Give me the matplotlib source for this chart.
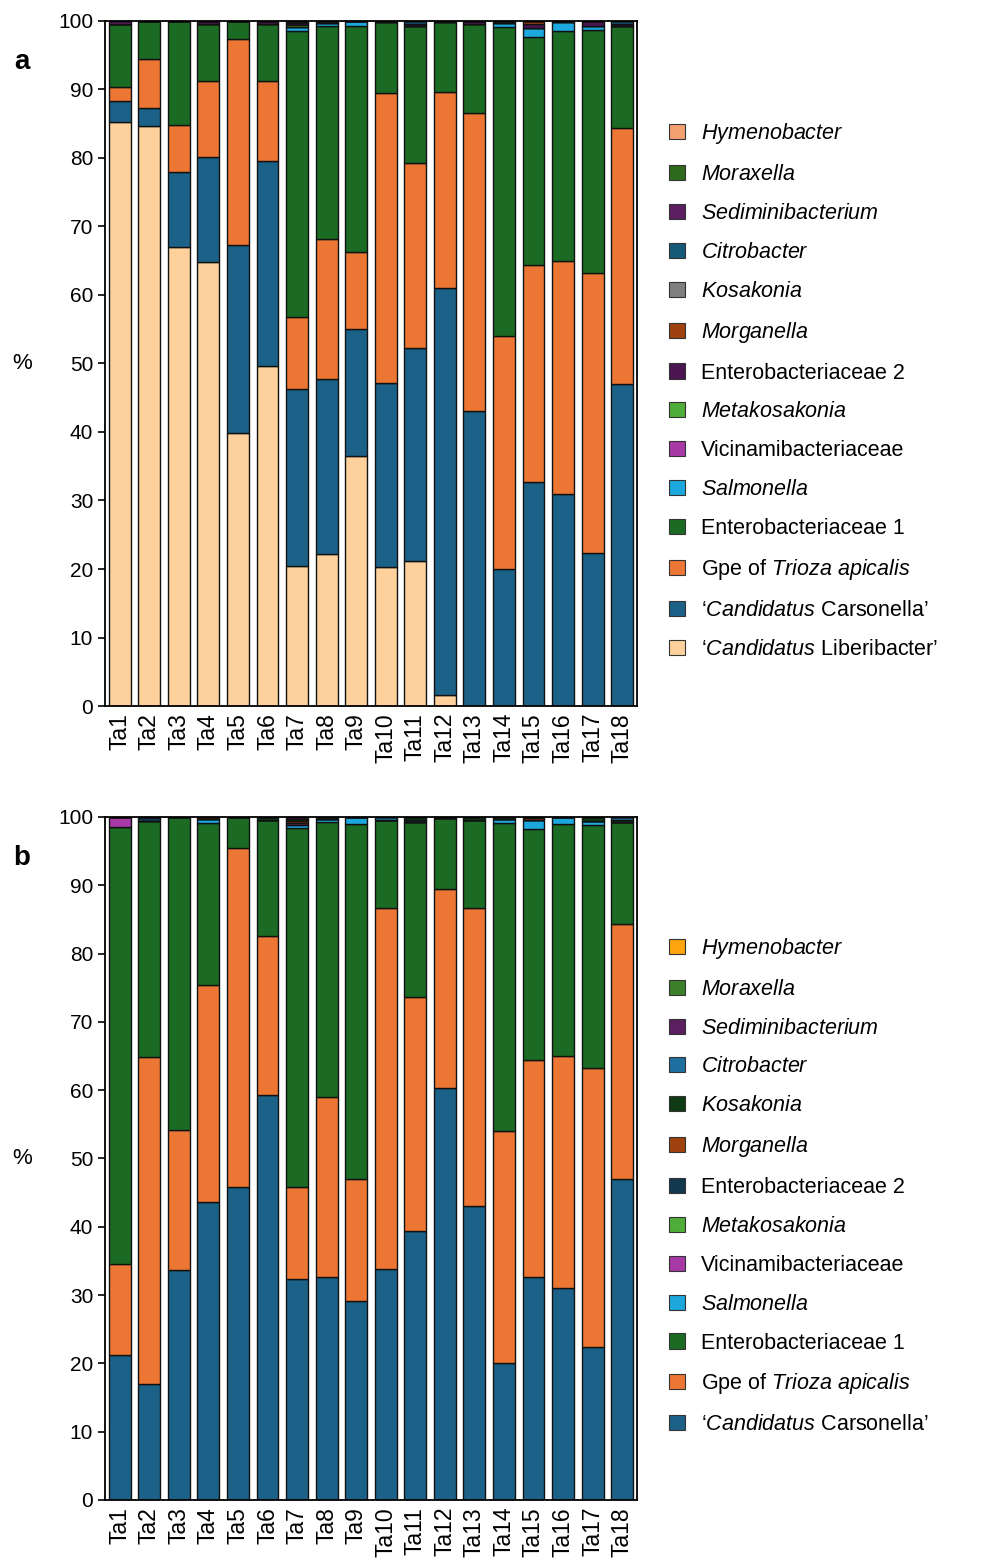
import matplotlib
matplotlib.use('Agg')
import matplotlib.pyplot as plt
from matplotlib.patches import Patch
import numpy as np

plt.rcParams['font.family'] = ['Liberation Sans', 'DejaVu Sans']
plt.rcParams['mathtext.fontset'] = 'custom'
plt.rcParams['mathtext.rm'] = 'Liberation Sans'
plt.rcParams['mathtext.it'] = 'Liberation Sans:italic'

samples = ['Ta1', 'Ta2', 'Ta3', 'Ta4', 'Ta5', 'Ta6', 'Ta7', 'Ta8', 'Ta9',
           'Ta10', 'Ta11', 'Ta12', 'Ta13', 'Ta14', 'Ta15', 'Ta16', 'Ta17', 'Ta18']

# taxa, bottom of the stack first
taxa = ['Liberibacter', 'Carsonella', 'Gpe', 'Entero1', 'Salmonella', 'Vicinami',
        'Metakosakonia', 'Entero2', 'Morganella', 'Kosakonia', 'Citrobacter',
        'Sediminibacterium', 'Moraxella', 'Hymenobacter']

labels = {
    'Liberibacter': '‘$\\mathit{Candidatus}$ Liberibacter’',
    'Carsonella': '‘$\\mathit{Candidatus}$ Carsonella’',
    'Gpe': 'Gpe of $\\mathit{Trioza\\ apicalis}$',
    'Entero1': 'Enterobacteriaceae 1',
    'Salmonella': '$\\mathit{Salmonella}$',
    'Vicinami': 'Vicinamibacteriaceae',
    'Metakosakonia': '$\\mathit{Metakosakonia}$',
    'Entero2': 'Enterobacteriaceae 2',
    'Morganella': '$\\mathit{Morganella}$',
    'Kosakonia': '$\\mathit{Kosakonia}$',
    'Citrobacter': '$\\mathit{Citrobacter}$',
    'Sediminibacterium': '$\\mathit{Sediminibacterium}$',
    'Moraxella': '$\\mathit{Moraxella}$',
    'Hymenobacter': '$\\mathit{Hymenobacter}$',
}

# panel a (% reads)
a_liberibacter = [85.2, 84.7, 67.0, 64.8, 39.8, 49.7, 20.5, 22.2, 36.5, 20.3, 21.2, 1.6, 0, 0, 0, 0, 0, 0]
a_carsonella = [3.1, 2.6, 11.0, 15.4, 27.5, 29.8, 25.8, 25.6, 18.5, 26.9, 31.1, 59.4, 43.0, 20.0, 32.7, 31.0, 22.4, 47.0]
a_gpe = [2.1, 7.2, 6.8, 11.1, 30.1, 11.8, 10.5, 20.4, 11.3, 42.3, 27.0, 28.6, 43.6, 34.0, 31.7, 34.0, 40.8, 37.3]
a_entero1 = [9.2, 5.5, 15.2, 8.3, 2.6, 8.3, 41.8, 31.0, 32.9, 10.3, 20.0, 10.2, 13.0, 45.1, 33.2, 33.6, 35.5, 15.0]
a_salmonella = [0, 0, 0, 0, 0, 0, 0.5, 0.5, 0.8, 0, 0, 0, 0, 0.6, 1.4, 1.2, 0.6, 0]
a_vicinami = [0] * 18
a_metakosakonia = [0, 0, 0, 0, 0, 0, 0.3, 0, 0, 0, 0, 0, 0, 0, 0, 0, 0, 0]
a_entero2 = [0, 0, 0, 0.4, 0, 0.4, 0.3, 0.3, 0, 0.2, 0.3, 0.2, 0.4, 0.3, 0.5, 0.2, 0.7, 0.3]
a_morganella = [0, 0, 0, 0, 0, 0, 0, 0, 0, 0, 0, 0, 0, 0, 0.5, 0, 0, 0]
a_kosakonia = [0] * 18
a_citrobacter = [0, 0, 0, 0, 0, 0, 0.1, 0, 0, 0, 0.4, 0, 0, 0, 0, 0, 0, 0.4]
a_sediminibacterium = [0.4, 0, 0, 0, 0, 0, 0, 0, 0, 0, 0, 0, 0, 0, 0, 0, 0, 0]
a_moraxella = [0, 0, 0, 0, 0, 0, 0.2, 0, 0, 0, 0, 0, 0, 0, 0, 0, 0, 0]
a_hymenobacter = [0] * 18

# panel b (% reads, Liberibacter removed)
b_carsonella = [21.2, 17.0, 33.6, 43.6, 45.8, 59.3, 32.4, 32.6, 29.1, 33.8, 39.4, 60.3, 43.0, 20.0, 32.7, 31.0, 22.4, 47.0]
b_gpe = [13.4, 47.8, 20.6, 31.8, 49.6, 23.2, 13.4, 26.4, 17.9, 52.9, 34.2, 29.2, 43.6, 34.0, 31.7, 34.0, 40.8, 37.3]
b_entero1 = [63.9, 34.6, 45.8, 23.7, 4.6, 17.1, 52.6, 40.2, 52.0, 12.9, 25.6, 10.3, 13.0, 45.1, 33.8, 33.9, 35.6, 15.0]
b_salmonella = [0, 0, 0, 0.6, 0, 0, 0.4, 0.5, 1.0, 0, 0, 0, 0, 0.6, 1.4, 1.1, 0.6, 0]
b_vicinami = [1.5, 0, 0, 0, 0, 0, 0.3, 0, 0, 0, 0, 0, 0, 0, 0, 0, 0, 0]
b_metakosakonia = [0] * 18
b_entero2 = [0, 0.6, 0, 0, 0, 0, 0, 0, 0, 0, 0.4, 0, 0, 0, 0, 0, 0, 0]
b_morganella = [0, 0, 0, 0.3, 0, 0, 0.3, 0, 0, 0, 0, 0, 0, 0, 0.2, 0, 0, 0]
b_kosakonia = [0, 0, 0, 0, 0, 0.4, 0.3, 0.3, 0, 0, 0.4, 0.2, 0.4, 0.3, 0.3, 0, 0.6, 0.3]
b_citrobacter = [0, 0, 0, 0, 0, 0, 0, 0, 0, 0.4, 0, 0, 0, 0, 0, 0, 0, 0.4]
b_sediminibacterium = [0, 0, 0, 0, 0, 0, 0.3, 0, 0, 0, 0, 0, 0, 0, 0, 0, 0, 0]
b_moraxella = [0] * 18
b_hymenobacter = [0] * 18

colors_a = {
    'Liberibacter': '#FDD09C', 'Carsonella': '#1B6188', 'Gpe': '#EC7634',
    'Entero1': '#1C6B24', 'Salmonella': '#1CA7DD', 'Vicinami': '#A83AA8',
    'Metakosakonia': '#4FAE3A', 'Entero2': '#4A1550', 'Morganella': '#A0420F',
    'Kosakonia': '#808080', 'Citrobacter': '#155A78', 'Sediminibacterium': '#5B1E5F',
    'Moraxella': '#2E6A1E', 'Hymenobacter': '#F5A070',
}
colors_b = dict(colors_a)
colors_b.update({
    'Entero2': '#12384F', 'Kosakonia': '#0E3A14', 'Citrobacter': '#1F70A0',
    'Moraxella': '#3C7F2A', 'Hymenobacter': '#FFA510',
})


def draw_panel(ax, series, colors):
    x = np.arange(len(samples))
    bottom = np.zeros(len(samples))
    for name in taxa:
        if name not in series:
            continue
        vals = np.array(series[name], dtype=float)
        ax.bar(x, vals, 0.74, bottom=bottom, color=colors[name],
               edgecolor='#111111', linewidth=1.0)
        bottom += vals
    ax.set_xlim(-0.5, len(samples) - 0.5)
    ax.set_ylim(0, 100)
    ax.set_yticks(range(0, 101, 10))
    ax.set_xticks(x)
    ax.set_xticklabels(samples, rotation=90, fontsize=16.5)
    ax.tick_params(axis='y', labelsize=15, direction='out', length=5, width=1.2)
    ax.tick_params(axis='x', length=0, pad=5)
    for sp in ax.spines.values():
        sp.set_linewidth(1.3)
    ax.set_ylabel('%', rotation=0, fontsize=16, labelpad=26, va='center')


def add_legend(fig, series, colors, y_center):
    handles = [Patch(facecolor=colors[n], edgecolor='#333333', linewidth=0.8, label=labels[n])
               for n in reversed(taxa) if n in series]
    fig.legend(handles=handles, loc='center left', bbox_to_anchor=(0.66, y_center),
               frameon=False, fontsize=15.5, handlelength=0.7, handleheight=0.7,
               handletextpad=0.75, labelspacing=0.83)


def main():
    fig = plt.figure(figsize=(9.85, 15.62), dpi=100)
    ax_a = fig.add_axes([0.1066, 0.548, 0.540, 0.4386])
    ax_b = fig.add_axes([0.1066, 0.0397, 0.540, 0.4373])

    series_a = {
        'Liberibacter': a_liberibacter, 'Carsonella': a_carsonella, 'Gpe': a_gpe,
        'Entero1': a_entero1, 'Salmonella': a_salmonella, 'Vicinami': a_vicinami,
        'Metakosakonia': a_metakosakonia, 'Entero2': a_entero2, 'Morganella': a_morganella,
        'Kosakonia': a_kosakonia, 'Citrobacter': a_citrobacter,
        'Sediminibacterium': a_sediminibacterium, 'Moraxella': a_moraxella,
        'Hymenobacter': a_hymenobacter,
    }
    series_b = {
        'Carsonella': b_carsonella, 'Gpe': b_gpe, 'Entero1': b_entero1,
        'Salmonella': b_salmonella, 'Vicinami': b_vicinami, 'Metakosakonia': b_metakosakonia,
        'Entero2': b_entero2, 'Morganella': b_morganella, 'Kosakonia': b_kosakonia,
        'Citrobacter': b_citrobacter, 'Sediminibacterium': b_sediminibacterium,
        'Moraxella': b_moraxella, 'Hymenobacter': b_hymenobacter,
    }

    draw_panel(ax_a, series_a, colors_a)
    draw_panel(ax_b, series_b, colors_b)

    add_legend(fig, series_a, colors_a, 0.750)
    add_legend(fig, series_b, colors_b, 0.241)

    # panel letters
    fig.text(0.022, 0.960, 'a', fontsize=20, fontweight='bold', ha='center', va='center')
    fig.text(0.022, 0.451, 'b', fontsize=20, fontweight='bold', ha='center', va='center')

    fig.savefig('out.png', dpi=100)
    plt.close(fig)


if __name__ == "__main__":
    main()
